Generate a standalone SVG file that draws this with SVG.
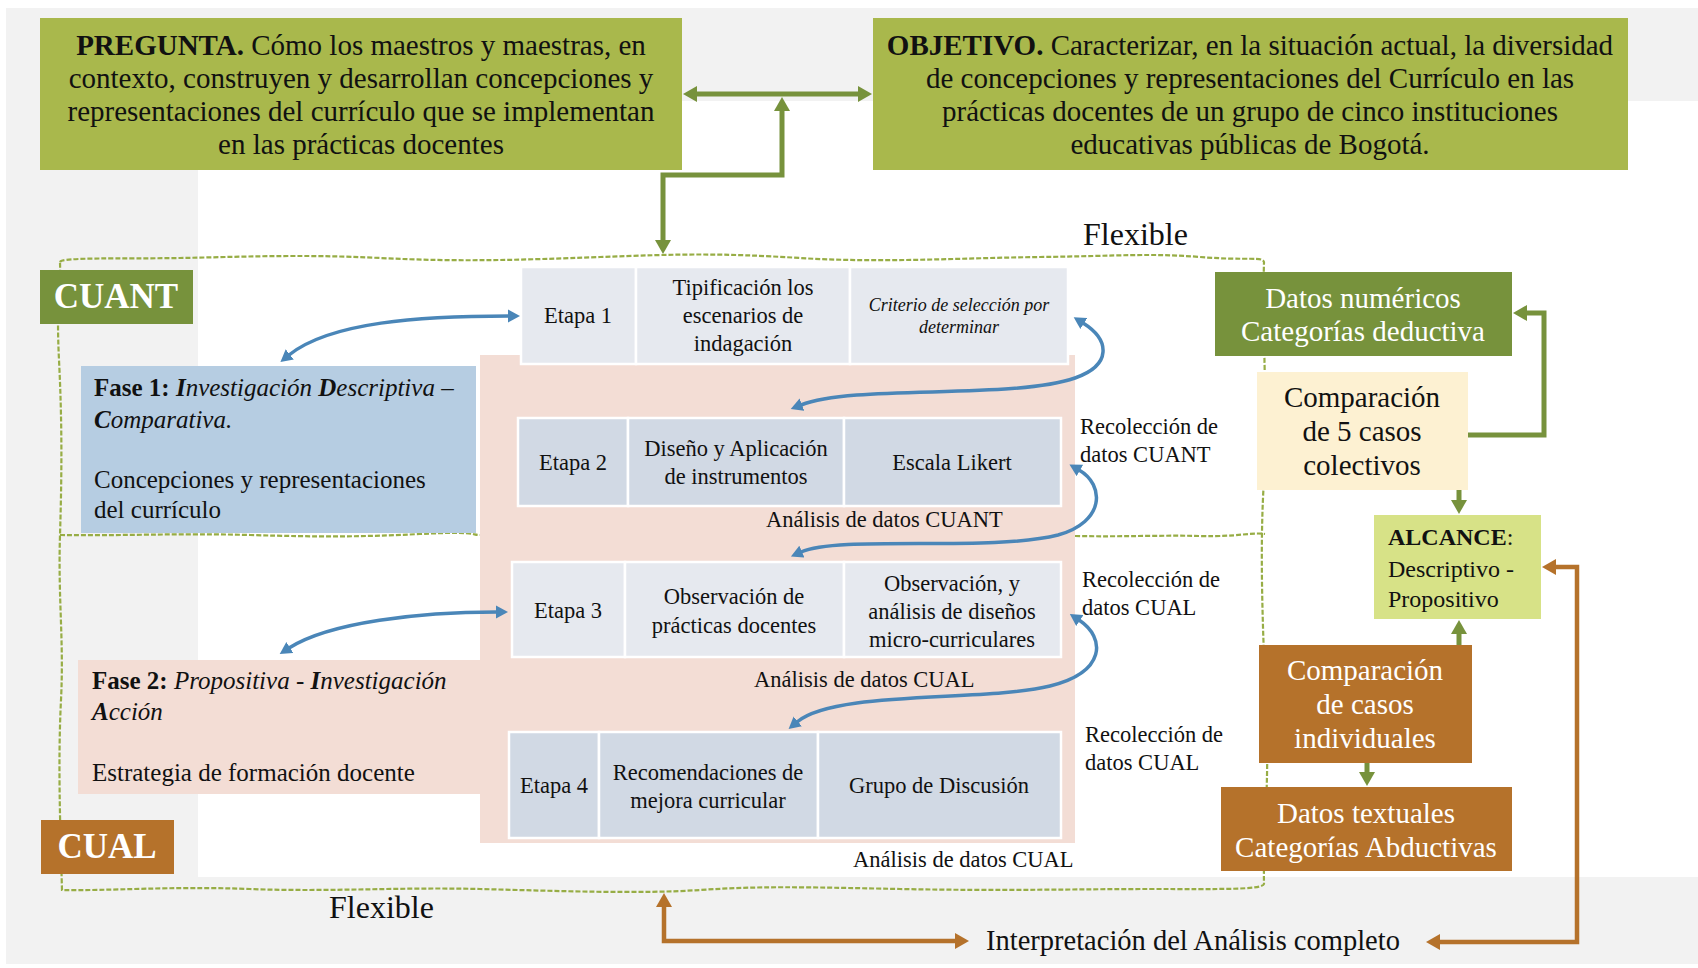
<svg xmlns="http://www.w3.org/2000/svg" width="1698" height="968" viewBox="0 0 1698 968">
  <style>
    .serif { font-family: "Liberation Serif", "Times New Roman", serif; fill: #111; }
    .top { font-size: 29px; }
    .fase { font-size: 25px; }
    .cell { font-size: 22.5px; }
    .lbl { font-size: 22.5px; }
    .big { font-size: 29px; }
    .wt { fill: #ffffff; }
    .mid { text-anchor: middle; }
    .b { font-weight: bold; }
    .i { font-style: italic; }
    .bi { font-weight: bold; font-style: italic; }
    .cellL { fill: #e6e9ef; stroke: #ffffff; stroke-width: 2.5; }
    .cellD { fill: #d1d9e4; stroke: #ffffff; stroke-width: 2.5; }
    .olive { fill: none; stroke: #77923c; stroke-width: 5; }
    .brown { fill: none; stroke: #b5722b; stroke-width: 4.5; }
    .blue { fill: none; stroke: #4a86b8; stroke-width: 3.5; }
    .dash { fill: none; stroke: #97ad45; stroke-width: 2.2; stroke-dasharray: 5 2; }
  </style>
  <defs>
    <marker id="headOlive" markerUnits="userSpaceOnUse" viewBox="0 -9 15 18" markerWidth="15" markerHeight="18" refX="1" refY="0" orient="auto-start-reverse">
      <path d="M0,-8 L14,0 L0,8 Z" fill="#77923c"/>
    </marker>
    <marker id="headBrown" markerUnits="userSpaceOnUse" viewBox="0 -9 15 18" markerWidth="15" markerHeight="18" refX="1" refY="0" orient="auto-start-reverse">
      <path d="M0,-8 L14,0 L0,8 Z" fill="#b5722b"/>
    </marker>
    <marker id="headBlue" markerUnits="userSpaceOnUse" viewBox="0 -7 13 14" markerWidth="13" markerHeight="14" refX="1" refY="0" orient="auto-start-reverse">
      <path d="M0,-6.5 L12,0 L0,6.5 Z" fill="#4a86b8"/>
    </marker>
  </defs>

  <!-- page backdrop -->
  <rect x="0" y="0" width="1698" height="968" fill="#ffffff"/>
  <rect x="6" y="8" width="1692" height="956" fill="#f2f2f2"/>
  <rect x="198" y="101" width="1500" height="776" fill="#ffffff"/>

  <!-- flexible frame (dashed, hand-drawn look) -->
  <g id="frame">
    <path class="dash" d="M60 262 C62 257 120 259 180 258 S300 254 380 258 S520 260 600 257 S720 253 800 258 S960 258 1040 257 S1150 253 1200 257 S1262 256 1264 262 C1262 330 1268 420 1264 480 S1262 620 1266 700 S1263 840 1264 884 C1262 890 1220 889 1150 889 S1000 891 900 889 S760 886 700 890 S560 891 480 889 S330 892 250 889 S110 891 62 890 C60 820 58 760 61 700 S58 600 60 535 S62 420 59 360 S61 290 60 262"/>
    <path class="dash" d="M60 535 C120 536 180 533 250 535 S360 537 420 534 S470 535 480 535 M1075 536 C1120 537 1160 535 1200 536 S1250 532 1265 534"/>
  </g>

  <!-- pink block behind the stages -->
  <rect id="bloque-etapas" x="480" y="355" width="595" height="488" fill="#f3ddd5"/>

  <!-- question and objective -->
  <g id="pregunta">
    <rect x="40" y="18" width="642" height="152" fill="#a9b84c"/>
    <text class="serif top mid" x="361" y="55"><tspan class="b">PREGUNTA.</tspan> Cómo los maestros y maestras, en</text>
    <text class="serif top mid" x="361" y="88">contexto, construyen y desarrollan concepciones y</text>
    <text class="serif top mid" x="361" y="121">representaciones del currículo que se implementan</text>
    <text class="serif top mid" x="361" y="154">en las prácticas docentes</text>
  </g>
  <g id="objetivo">
    <rect x="873" y="18" width="755" height="152" fill="#a9b84c"/>
    <text class="serif top mid" x="1250" y="55"><tspan class="b">OBJETIVO.</tspan> Caracterizar, en la situación actual, la diversidad</text>
    <text class="serif top mid" x="1250" y="88">de concepciones y representaciones del Currículo en las</text>
    <text class="serif top mid" x="1250" y="121">prácticas docentes de un grupo de cinco instituciones</text>
    <text class="serif top mid" x="1250" y="154">educativas públicas de Bogotá.</text>
  </g>

  <text id="flexible-sup" class="serif" x="1083" y="245" font-size="32">Flexible</text>

  <!-- approach tags -->
  <g id="cuant">
    <rect x="40" y="270" width="153" height="54" fill="#77923c"/>
    <text class="serif wt b mid" x="116" y="308" font-size="35">CUANT</text>
  </g>
  <g id="cual">
    <rect x="41" y="820" width="133" height="54" fill="#b5722b"/>
    <text class="serif wt b mid" x="107" y="858" font-size="35">CUAL</text>
  </g>

  <!-- phases -->
  <g id="fase1">
    <rect x="81" y="366" width="395" height="167" fill="#b6cde2"/>
    <text class="serif fase" x="94" y="396"><tspan class="b">Fase 1: </tspan><tspan class="bi">I</tspan><tspan class="i">nvestigación </tspan><tspan class="bi">D</tspan><tspan class="i">escriptiva –</tspan></text>
    <text class="serif fase" x="94" y="428"><tspan class="bi">C</tspan><tspan class="i">omparativa.</tspan></text>
    <text class="serif fase" x="94" y="488">Concepciones y representaciones</text>
    <text class="serif fase" x="94" y="518">del currículo</text>
  </g>
  <g id="fase2">
    <rect x="78" y="660" width="404" height="134" fill="#f3ddd5"/>
    <text class="serif fase" x="92" y="689"><tspan class="b">Fase 2: </tspan><tspan class="i">Propositiva - </tspan><tspan class="bi">I</tspan><tspan class="i">nvestigación</tspan></text>
    <text class="serif fase" x="92" y="720"><tspan class="bi">A</tspan><tspan class="i">cción</tspan></text>
    <text class="serif fase" x="92" y="781">Estrategia de formación docente</text>
  </g>

  <!-- stage rows -->
  <g id="etapa1">
    <rect class="cellL" x="521" y="267" width="115" height="97"/>
    <rect class="cellL" x="636" y="267" width="214" height="97"/>
    <rect class="cellL" x="850" y="267" width="218" height="97"/>
    <text class="serif cell mid" x="578" y="323">Etapa 1</text>
    <text class="serif cell mid" x="743" y="295">Tipificación los</text>
    <text class="serif cell mid" x="743" y="323">escenarios de</text>
    <text class="serif cell mid" x="743" y="351">indagación</text>
    <text class="serif i mid" x="959" y="311" font-size="18">Criterio de selección por</text>
    <text class="serif i mid" x="959" y="333" font-size="18">determinar</text>
  </g>
  <g id="etapa2">
    <rect class="cellD" x="518" y="418" width="110" height="88"/>
    <rect class="cellD" x="628" y="418" width="216" height="88"/>
    <rect class="cellD" x="844" y="418" width="217" height="88"/>
    <text class="serif cell mid" x="573" y="470">Etapa 2</text>
    <text class="serif cell mid" x="736" y="456">Diseño y Aplicación</text>
    <text class="serif cell mid" x="736" y="484">de instrumentos</text>
    <text class="serif cell mid" x="952" y="470">Escala Likert</text>
  </g>
  <g id="etapa3">
    <rect class="cellL" x="512" y="562" width="113" height="95"/>
    <rect class="cellL" x="625" y="562" width="219" height="95"/>
    <rect class="cellL" x="844" y="562" width="217" height="95"/>
    <text class="serif cell mid" x="568" y="618">Etapa 3</text>
    <text class="serif cell mid" x="734" y="604">Observación de</text>
    <text class="serif cell mid" x="734" y="633">prácticas docentes</text>
    <text class="serif cell mid" x="952" y="591">Observación, y</text>
    <text class="serif cell mid" x="952" y="619">análisis de diseños</text>
    <text class="serif cell mid" x="952" y="647">micro-curriculares</text>
  </g>
  <g id="etapa4">
    <rect class="cellD" x="509" y="732" width="90" height="106"/>
    <rect class="cellD" x="599" y="732" width="219" height="106"/>
    <rect class="cellD" x="818" y="732" width="243" height="106"/>
    <text class="serif cell mid" x="554" y="793">Etapa 4</text>
    <text class="serif cell mid" x="708" y="780">Recomendaciones de</text>
    <text class="serif cell mid" x="708" y="808">mejora curricular</text>
    <text class="serif cell mid" x="939" y="793">Grupo de Discusión</text>
  </g>

  <!-- data collection / analysis labels -->
  <g id="etiquetas">
    <text class="serif lbl" x="1080" y="434">Recolección de</text>
    <text class="serif lbl" x="1080" y="462">datos CUANT</text>
    <text class="serif lbl" x="766" y="527">Análisis de datos CUANT</text>
    <text class="serif lbl" x="1082" y="587">Recolección de</text>
    <text class="serif lbl" x="1082" y="615">datos CUAL</text>
    <text class="serif lbl" x="754" y="687">Análisis de datos CUAL</text>
    <text class="serif lbl" x="1085" y="742">Recolección de</text>
    <text class="serif lbl" x="1085" y="770">datos CUAL</text>
    <text class="serif lbl" x="853" y="867">Análisis de datos CUAL</text>
  </g>

  <text id="flexible-inf" class="serif" x="329" y="918" font-size="32">Flexible</text>
  <text id="interpretacion" class="serif" x="986" y="950" font-size="28.5">Interpretación del Análisis completo</text>

  <!-- results column -->
  <g id="datos-numericos">
    <rect x="1215" y="272" width="297" height="84" fill="#77923c"/>
    <text class="serif big wt mid" x="1363" y="308">Datos numéricos</text>
    <text class="serif big wt mid" x="1363" y="341">Categorías deductiva</text>
  </g>
  <g id="comparacion-colectivos">
    <rect x="1257" y="372" width="211" height="118" fill="#fdf1d2"/>
    <text class="serif big mid" x="1362" y="407">Comparación</text>
    <text class="serif big mid" x="1362" y="441">de 5 casos</text>
    <text class="serif big mid" x="1362" y="475">colectivos</text>
  </g>
  <g id="alcance">
    <rect x="1374" y="515" width="167" height="104" fill="#d7e287"/>
    <text class="serif" x="1388" y="545" font-size="24"><tspan class="b">ALCANCE</tspan>:</text>
    <text class="serif" x="1388" y="577" font-size="24">Descriptivo -</text>
    <text class="serif" x="1388" y="607" font-size="24">Propositivo</text>
  </g>
  <g id="comparacion-individuales">
    <rect x="1259" y="645" width="213" height="118" fill="#b5722b"/>
    <text class="serif big wt mid" x="1365" y="680">Comparación</text>
    <text class="serif big wt mid" x="1365" y="714">de casos</text>
    <text class="serif big wt mid" x="1365" y="748">individuales</text>
  </g>
  <g id="datos-textuales">
    <rect x="1221" y="787" width="291" height="84" fill="#b5722b"/>
    <text class="serif big wt mid" x="1366" y="823">Datos textuales</text>
    <text class="serif big wt mid" x="1366" y="857">Categorías Abductivas</text>
  </g>

  <!-- connectors -->
  <g id="connectors">
    <path class="olive" d="M696 94 H859" marker-start="url(#headOlive)" marker-end="url(#headOlive)"/>
    <path class="olive" d="M782 110 V175 H663 V241" marker-start="url(#headOlive)" marker-end="url(#headOlive)"/>
    <path class="olive" d="M1468 435 H1544 V313 H1526" marker-end="url(#headOlive)"/>
    <path class="olive" d="M1459 490 V501" marker-end="url(#headOlive)"/>
    <path class="olive" d="M1459 645 V633" marker-end="url(#headOlive)"/>
    <path class="olive" d="M1367 763 V773" marker-end="url(#headOlive)"/>

    <path class="brown" d="M1555 567 H1577 V942 H1439" marker-start="url(#headBrown)" marker-end="url(#headBrown)"/>
    <path class="brown" d="M664 906 V941 H956" marker-start="url(#headBrown)" marker-end="url(#headBrown)"/>

    <path class="blue" d="M289 355 C330 322 420 316 509 316" marker-start="url(#headBlue)" marker-end="url(#headBlue)"/>
    <path class="blue" d="M1083 323 C1110 340 1112 365 1075 378 C1010 400 855 384 801 405" marker-start="url(#headBlue)" marker-end="url(#headBlue)"/>
    <path class="blue" d="M1079 470 C1105 485 1105 522 1058 535 C990 552 840 535 801 552" marker-start="url(#headBlue)" marker-end="url(#headBlue)"/>
    <path class="blue" d="M289 648 C330 622 420 612 497 612" marker-start="url(#headBlue)" marker-end="url(#headBlue)"/>
    <path class="blue" d="M1079 620 C1106 638 1106 672 1050 686 C985 702 835 690 797 722" marker-start="url(#headBlue)" marker-end="url(#headBlue)"/>
  </g>
</svg>
